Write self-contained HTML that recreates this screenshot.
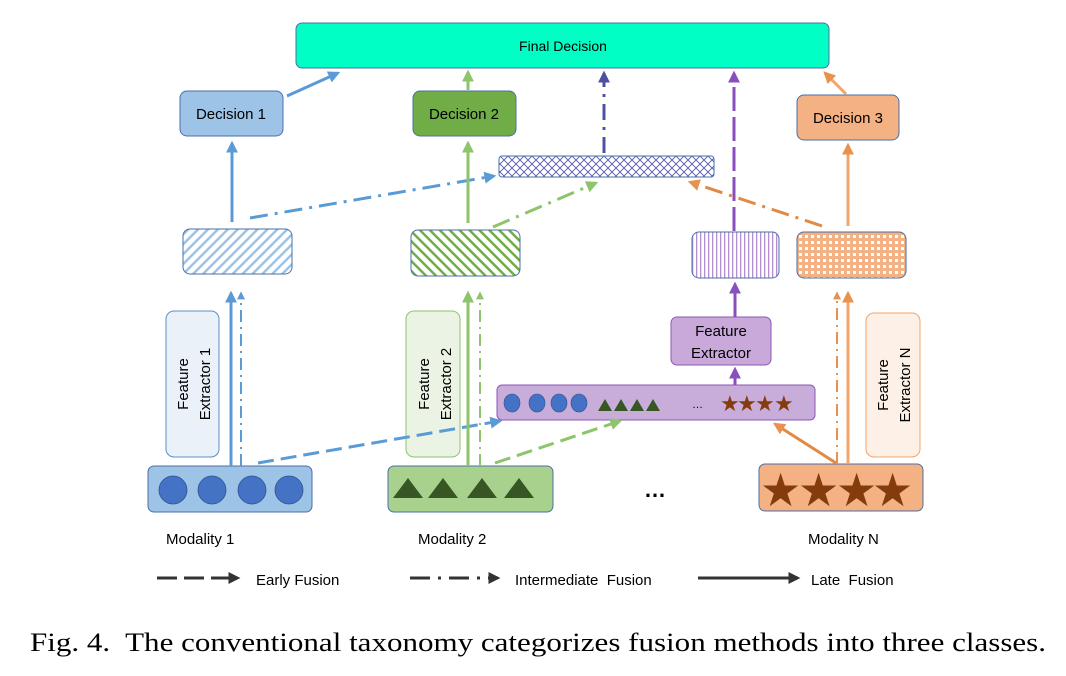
<!DOCTYPE html>
<html><head><meta charset="utf-8"><style>
html,body{margin:0;padding:0;background:#fff;}
svg{display:block;}
.s{font-family:"Liberation Sans",sans-serif;}
.cap{font-family:"Liberation Serif",serif;}
</style></head><body>
<svg width="1066" height="676" viewBox="0 0 1066 676" xmlns="http://www.w3.org/2000/svg">
<defs>
<pattern id="pb" width="7" height="7" patternUnits="userSpaceOnUse" patternTransform="rotate(45)"><rect width="7" height="7" fill="#fff"/><rect width="2.5" height="7" fill="#9dc3e6"/></pattern>
<pattern id="pg" width="7" height="7" patternUnits="userSpaceOnUse" patternTransform="rotate(-45)"><rect width="7" height="7" fill="#fff"/><rect width="2.5" height="7" fill="#70ad47"/></pattern>
<pattern id="pv" width="4" height="4" patternUnits="userSpaceOnUse"><rect width="4" height="4" fill="#fff"/><rect width="1.3" height="4" fill="#b48fd0"/></pattern>
<pattern id="po" width="6" height="6" patternUnits="userSpaceOnUse"><rect width="6" height="6" fill="#f4b183"/><rect x="1" y="1" width="3" height="3" fill="#fff"/></pattern>
<pattern id="px" width="8" height="8" patternUnits="userSpaceOnUse"><rect width="8" height="8" fill="#fff"/><path d="M0 8L8 0M0 0L8 8" stroke="#4a4fa8" stroke-width="0.8"/></pattern>
<marker id="ab" viewBox="0 0 10 10" refX="8" refY="5" markerWidth="4" markerHeight="4" orient="auto"><path d="M0 0L10 5L0 10z" fill="#5b9bd5"/></marker>
<marker id="ag" viewBox="0 0 10 10" refX="8" refY="5" markerWidth="4" markerHeight="4" orient="auto"><path d="M0 0L10 5L0 10z" fill="#8cc56a"/></marker>
<marker id="ao" viewBox="0 0 10 10" refX="8" refY="5" markerWidth="4" markerHeight="4" orient="auto"><path d="M0 0L10 5L0 10z" fill="#e9914e"/></marker>
<marker id="ap" viewBox="0 0 10 10" refX="8" refY="5" markerWidth="4" markerHeight="4" orient="auto"><path d="M0 0L10 5L0 10z" fill="#8a4fbf"/></marker>
<marker id="an" viewBox="0 0 10 10" refX="8" refY="5" markerWidth="4" markerHeight="4" orient="auto"><path d="M0 0L10 5L0 10z" fill="#5050a0"/></marker>
<marker id="ak" viewBox="0 0 10 10" refX="8" refY="5" markerWidth="4" markerHeight="4" orient="auto"><path d="M0 0L10 5L0 10z" fill="#333"/></marker>
</defs>
<g class="s">
<rect x="296" y="23" width="533" height="45" rx="6" fill="#00ffc4" stroke="#4a6fa8" stroke-width="1"/>
<text x="563" y="51" font-size="14" text-anchor="middle">Final Decision</text>
<rect x="180" y="91" width="103" height="45" rx="7" fill="#9dc3e6" stroke="#4a6fa8"/>
<text x="231" y="119" font-size="15" text-anchor="middle">Decision 1</text>
<rect x="413" y="91" width="103" height="45" rx="7" fill="#70ad47" stroke="#4a6fa8"/>
<text x="464" y="119" font-size="15" text-anchor="middle">Decision 2</text>
<rect x="797" y="95" width="102" height="45" rx="7" fill="#f4b183" stroke="#4a6fa8"/>
<text x="848" y="123" font-size="15" text-anchor="middle">Decision 3</text>

<rect x="499" y="156" width="215" height="21" rx="3" fill="url(#px)" stroke="#4a6fa8"/>
<rect x="183" y="229" width="109" height="45" rx="7" fill="url(#pb)" stroke="#4a6fa8"/>
<rect x="411" y="230" width="109" height="46" rx="7" fill="url(#pg)" stroke="#4a6fa8"/>
<rect x="692" y="232" width="87" height="46" rx="7" fill="url(#pv)" stroke="#4a6fa8"/>
<rect x="797" y="232" width="109" height="46" rx="7" fill="url(#po)" stroke="#4a6fa8"/>

<rect x="166" y="311" width="53" height="146" rx="8" fill="#eaf1f9" stroke="#5b8fc9"/>
<text transform="translate(188,384) rotate(-90)" font-size="15" text-anchor="middle">Feature</text>
<text transform="translate(210,384) rotate(-90)" font-size="15" text-anchor="middle">Extractor 1</text>
<rect x="406" y="311" width="54" height="146" rx="8" fill="#ebf4e4" stroke="#8cc56a"/>
<text transform="translate(429,384) rotate(-90)" font-size="15" text-anchor="middle">Feature</text>
<text transform="translate(451,384) rotate(-90)" font-size="15" text-anchor="middle">Extractor 2</text>
<rect x="866" y="313" width="54" height="144" rx="8" fill="#fdf0e6" stroke="#f4a46a"/>
<text transform="translate(888,385) rotate(-90)" font-size="15" text-anchor="middle">Feature</text>
<text transform="translate(910,385) rotate(-90)" font-size="15" text-anchor="middle">Extractor N</text>

<rect x="671" y="317" width="100" height="48" rx="6" fill="#c9a9da" stroke="#8e56b6"/>
<text x="721" y="336" font-size="15" text-anchor="middle">Feature</text>
<text x="721" y="358" font-size="15" text-anchor="middle">Extractor</text>

<rect x="497" y="385" width="318" height="35" rx="5" fill="#c8acd9" stroke="#8e56b6"/>
<g fill="#4472c4" stroke="#2f528f" stroke-width="0.6">
<ellipse cx="512" cy="403" rx="8" ry="9"/><ellipse cx="537" cy="403" rx="8" ry="9"/><ellipse cx="559" cy="403" rx="8" ry="9"/><ellipse cx="579" cy="403" rx="8" ry="9"/></g>
<g fill="#375623"><path d="M598 411l7-12 7 12z"/><path d="M614 411l7-12 7 12z"/><path d="M630 411l7-12 7 12z"/><path d="M646 411l7-12 7 12z"/></g>
<text x="692" y="408" font-size="11">…</text>
<g fill="#843c0c" font-size="22"><text x="720" y="411">★</text><text x="737" y="411">★</text><text x="755" y="411">★</text><text x="774" y="411">★</text></g>

<rect x="148" y="466" width="164" height="46" rx="6" fill="#9dc3e6" stroke="#4a6fa8"/>
<g fill="#4472c4" stroke="#2f528f" stroke-width="0.8">
<ellipse cx="173" cy="490" rx="14" ry="14"/><ellipse cx="212" cy="490" rx="14" ry="14"/><ellipse cx="252" cy="490" rx="14" ry="14"/><ellipse cx="289" cy="490" rx="14" ry="14"/></g>
<rect x="388" y="466" width="165" height="46" rx="6" fill="#a9d18e" stroke="#4a6fa8"/>
<g fill="#375623"><path d="M393 498l15-20 15 20z"/><path d="M428 498l15-20 15 20z"/><path d="M467 498l15-20 15 20z"/><path d="M504 498l15-20 15 20z"/></g>
<rect x="759" y="464" width="164" height="47" rx="6" fill="#f4b183" stroke="#4a6fa8"/>
<g fill="#843c0c" font-size="46"><text x="760" y="506">★</text><text x="798" y="506">★</text><text x="836" y="506">★</text><text x="872" y="506">★</text></g>
<text x="655" y="497" font-size="22" text-anchor="middle" font-weight="bold">…</text>

<g fill="none" stroke-width="3">
<line x1="231" y1="466" x2="231" y2="293" stroke="#5b9bd5" marker-end="url(#ab)"/>
<line x1="241" y1="466" x2="241" y2="293" stroke="#5b9bd5" stroke-width="2" stroke-dasharray="12,5,2,5" marker-end="url(#ab)"/>
<line x1="232" y1="222" x2="232" y2="143" stroke="#5b9bd5" marker-end="url(#ab)"/>
<line x1="250" y1="218" x2="494" y2="176" stroke="#5b9bd5" stroke-dasharray="18,7,3,7" marker-end="url(#ab)"/>
<line x1="258" y1="463" x2="500" y2="421" stroke="#5b9bd5" stroke-dasharray="16,7" marker-end="url(#ab)"/>
<line x1="287" y1="96" x2="338" y2="73" stroke="#5b9bd5" marker-end="url(#ab)"/>
<line x1="468" y1="466" x2="468" y2="293" stroke="#8cc56a" marker-end="url(#ag)"/>
<line x1="480" y1="466" x2="480" y2="293" stroke="#8cc56a" stroke-width="2" stroke-dasharray="12,5,2,5" marker-end="url(#ag)"/>
<line x1="468" y1="223" x2="468" y2="143" stroke="#8cc56a" marker-end="url(#ag)"/>
<line x1="493" y1="227" x2="596" y2="183" stroke="#8cc56a" stroke-dasharray="18,7,3,7" marker-end="url(#ag)"/>
<line x1="495" y1="463" x2="620" y2="421" stroke="#8cc56a" stroke-dasharray="16,7" marker-end="url(#ag)"/>
<line x1="468" y1="90" x2="468" y2="72" stroke="#8cc56a" marker-end="url(#ag)"/>
<line x1="604" y1="153" x2="604" y2="73" stroke="#5050a0" stroke-dasharray="16,7,3,7" marker-end="url(#an)"/>
<line x1="734" y1="231" x2="734" y2="73" stroke="#8a4fbf" stroke-dasharray="24,6" marker-end="url(#ap)"/>
<line x1="735" y1="317" x2="735" y2="284" stroke="#8a4fbf" marker-end="url(#ap)"/>
<line x1="735" y1="385" x2="735" y2="369" stroke="#8a4fbf" marker-end="url(#ap)"/>
<line x1="848" y1="464" x2="848" y2="293" stroke="#f4a46a" marker-end="url(#ao)"/>
<line x1="837" y1="464" x2="837" y2="293" stroke="#e9914e" stroke-width="2" stroke-dasharray="12,5,2,5" marker-end="url(#ao)"/>
<line x1="848" y1="226" x2="848" y2="145" stroke="#f4a46a" marker-end="url(#ao)"/>
<line x1="822" y1="226" x2="690" y2="182" stroke="#e08a45" stroke-dasharray="18,7,3,7" marker-end="url(#ao)"/>
<line x1="836" y1="463" x2="775" y2="424" stroke="#e08a45" marker-end="url(#ao)"/>
<line x1="846" y1="94" x2="825" y2="73" stroke="#f4a46a" marker-end="url(#ao)"/>
<line x1="157" y1="578" x2="238" y2="578" stroke="#333" stroke-dasharray="20,7" marker-end="url(#ak)"/>
<line x1="410" y1="578" x2="498" y2="578" stroke="#333" stroke-dasharray="20,8,3,8" marker-end="url(#ak)"/>
<line x1="698" y1="578" x2="798" y2="578" stroke="#333" marker-end="url(#ak)"/>
</g>

<g font-size="15">
<text x="166" y="544">Modality 1</text>
<text x="418" y="544">Modality 2</text>
<text x="808" y="544">Modality N</text>
<text x="256" y="585">Early Fusion</text>
<text x="515" y="585" xml:space="preserve">Intermediate  Fusion</text>
<text x="811" y="585" xml:space="preserve">Late  Fusion</text>
</g>
</g>
<text class="cap" x="30" y="651" font-size="26" xml:space="preserve" textLength="1016" lengthAdjust="spacingAndGlyphs">Fig. 4.  The conventional taxonomy categorizes fusion methods into three classes.</text>
</svg>
</body></html>
